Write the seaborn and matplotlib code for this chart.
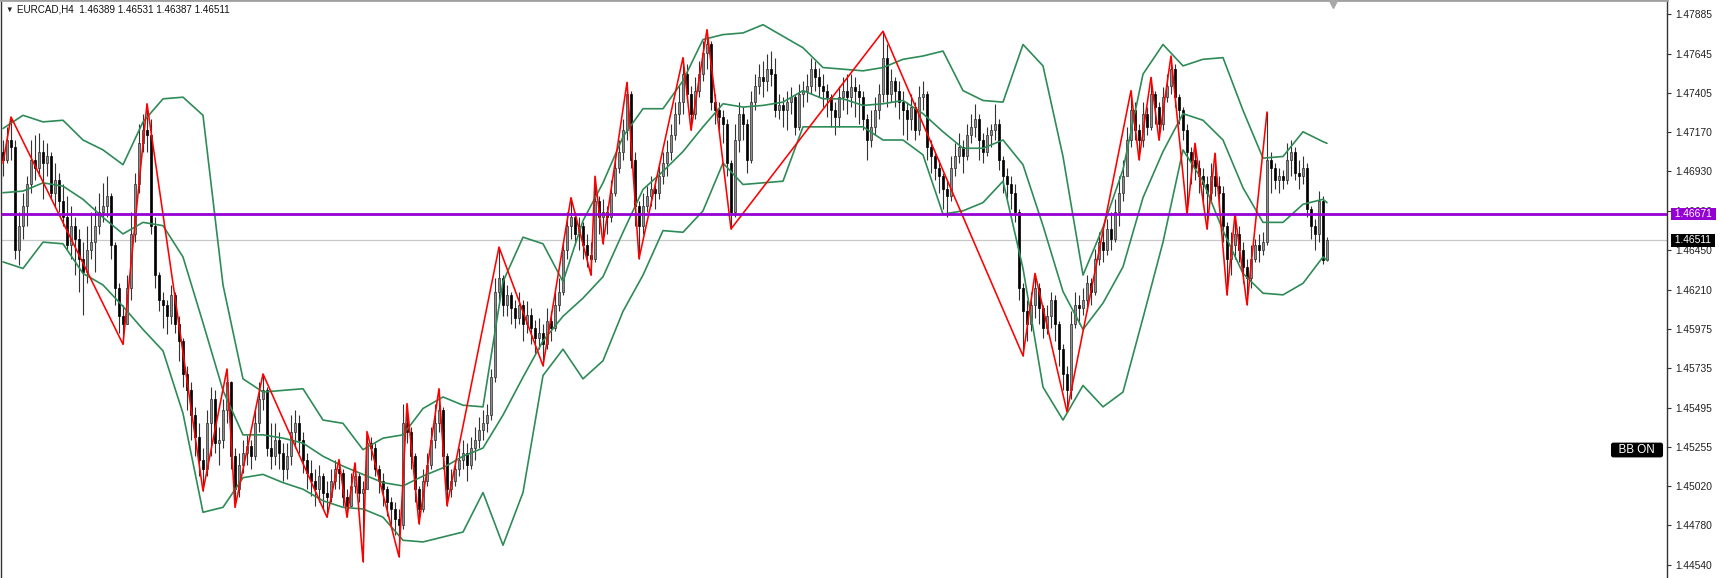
import numpy as np
import matplotlib
matplotlib.use("Agg")
import matplotlib.pyplot as plt
import matplotlib.transforms as mtransforms
import seaborn as sns

# all prices below are in points above 1.4000 (1 point = 0.0001)
BASE = 1.4
FIRST_OPEN = 705

CLOSE = [700, 712, 708, 645, 660, 672, 685, 700, 695, 705, 698, 702, 680, 688, 675, 665, 648, 660, 652, 640,
         632, 645, 650, 660, 668, 672, 678, 648, 622, 605, 600, 622, 655, 685, 710, 718, 715, 660, 630, 615,
         612, 605, 618, 600, 590, 570, 560, 545, 532, 518, 512, 540, 555, 528, 530, 548, 565, 520, 500, 515,
         522, 526, 520, 540, 555, 560, 525, 520, 530, 522, 512, 520, 535, 540, 530, 518, 510, 505, 500, 508,
         498, 495, 505, 512, 510, 495, 490, 502, 508, 498, 500, 528, 525, 512, 505, 500, 492, 488, 482, 478,
         540, 535, 520, 500, 488, 505, 515, 530, 540, 548, 520, 500, 505, 512, 518, 522, 515, 525, 530, 536,
         540, 545, 568, 620, 628, 612, 618, 610, 604, 612, 600, 606, 598, 592, 595, 588, 602, 598, 612, 620,
         645, 660, 665, 655, 660, 648, 642, 640, 675, 665, 668, 665, 680, 695, 705, 718, 740, 700, 672, 660,
         672, 678, 682, 680, 690, 698, 705, 715, 728, 735, 752, 740, 728, 742, 752, 765, 770, 735, 730, 726,
         722, 698, 668, 712, 728, 722, 700, 735, 745, 750, 748, 755, 752, 730, 733, 730, 735, 738, 720, 740,
         742, 745, 755, 750, 745, 742, 738, 730, 726, 738, 742, 738, 744, 742, 738, 725, 712, 720, 730, 740,
         762, 740, 748, 742, 735, 730, 725, 732, 718, 738, 740, 708, 702, 695, 690, 682, 678, 695, 702, 708,
         702, 715, 720, 725, 712, 705, 715, 718, 722, 700, 690, 685, 680, 668, 622, 608, 600, 612, 622, 610,
         598, 605, 615, 600, 585, 570, 560, 600, 612, 610, 615, 625, 620, 640, 650, 645, 658, 652, 668, 680,
         690, 712, 730, 718, 712, 728, 720, 740, 732, 722, 738, 745, 755, 738, 730, 718, 705, 700, 695, 690,
         685, 680, 690, 684, 680, 660, 640, 648, 655, 645, 635, 628, 640, 648, 645, 650, 700, 695, 688, 690,
         688, 700, 705, 692, 690, 695, 670, 660, 655, 675, 638.9, 651.1]
HIGH = [712, 720, 726, 712, 668, 680, 690, 712, 715, 716, 712, 710, 705, 698, 692, 685, 678, 672, 665, 658,
        650, 660, 668, 672, 680, 686, 690, 680, 650, 625, 612, 630, 668, 692, 722, 728, 734, 725, 665, 632,
        620, 615, 624, 620, 605, 592, 575, 565, 550, 540, 525, 548, 562, 560, 538, 555, 573, 566, 525, 522,
        530, 533, 530, 548, 565, 570, 562, 540, 540, 535, 528, 528, 545, 548, 545, 535, 522, 518, 512, 515,
        510, 505, 512, 518, 518, 512, 500, 510, 516, 510, 505, 535, 532, 528, 515, 510, 502, 495, 492, 488,
        552, 552, 538, 522, 502, 512, 522, 538, 552, 561, 550, 522, 512, 518, 525, 530, 528, 532, 538, 544,
        548, 552, 573, 628, 647, 630, 624, 620, 615, 620, 615, 614, 610, 603, 604, 600, 610, 608, 620, 628,
        650, 668, 677, 668, 665, 662, 655, 650, 690, 678, 676, 672, 688, 702, 712, 725, 747, 742, 705, 675,
        680, 684, 690, 688, 698, 705, 712, 722, 735, 745, 762, 758, 745, 750, 760, 772, 779, 772, 740, 735,
        730, 725, 700, 722, 735, 732, 725, 742, 752, 758, 760, 764, 766, 762, 740, 738, 742, 744, 740, 746,
        748, 752, 762, 760, 756, 752, 746, 740, 735, 745, 750, 752, 752, 750, 746, 742, 728, 730, 738, 746,
        778, 770, 755, 750, 748, 742, 735, 740, 735, 745, 748, 742, 712, 705, 700, 692, 688, 702, 710, 716,
        712, 722, 728, 734, 728, 716, 720, 722, 734, 725, 702, 695, 690, 685, 670, 625, 615, 620, 631, 625,
        612, 612, 620, 618, 602, 588, 575, 608, 620, 618, 622, 630, 628, 646, 656, 658, 664, 668, 676, 690,
        700, 720, 742, 735, 722, 735, 732, 750, 742, 735, 744, 752, 763, 758, 740, 732, 722, 708, 710, 700,
        695, 690, 698, 704, 690, 684, 662, 656, 667, 660, 650, 640, 648, 652, 655, 656, 729, 705, 698, 695,
        694, 710, 712, 708, 700, 702, 698, 672, 664, 681, 678, 653.1]
LOW = [690, 698, 700, 640, 636, 652, 660, 680, 688, 690, 676, 690, 676, 672, 668, 660, 645, 640, 630, 620,
       606, 625, 640, 632, 655, 662, 665, 640, 612, 595, 588, 600, 615, 650, 680, 705, 705, 655, 622, 608,
       598, 594, 600, 595, 578, 562, 548, 530, 520, 508, 499, 508, 520, 522, 515, 525, 540, 512, 489, 495,
       510, 515, 512, 518, 535, 548, 520, 512, 515, 512, 505, 506, 515, 525, 522, 510, 500, 496, 490, 492,
       488, 483, 492, 500, 500, 490, 483, 490, 498, 492, 456, 500, 518, 508, 498, 490, 484, 478, 472, 459,
       476, 528, 512, 492, 479, 486, 502, 512, 525, 535, 512, 490, 495, 502, 508, 512, 505, 512, 518, 525,
       530, 535, 542, 565, 615, 605, 605, 600, 598, 600, 590, 595, 588, 582, 585, 575, 585, 590, 596, 608,
       618, 640, 652, 648, 645, 640, 635, 630, 638, 655, 649, 655, 662, 678, 692, 700, 712, 695, 660, 640,
       655, 668, 672, 670, 676, 685, 690, 700, 712, 722, 728, 735, 718, 725, 738, 748, 755, 730, 722, 718,
       710, 690, 658, 665, 705, 712, 692, 698, 730, 740, 738, 742, 745, 726, 725, 720, 718, 728, 715, 718,
       732, 735, 740, 742, 738, 732, 726, 720, 715, 720, 730, 728, 732, 726, 722, 718, 700, 708, 715, 725,
       735, 732, 735, 732, 725, 715, 712, 718, 712, 715, 730, 700, 692, 688, 680, 670, 665, 675, 690, 698,
       692, 700, 710, 714, 700, 698, 702, 708, 712, 694, 680, 676, 670, 662, 615, 581, 590, 596, 604, 600,
       592, 594, 598, 590, 575, 560, 547, 555, 598, 600, 606, 608, 612, 618, 636, 638, 642, 645, 650, 660,
       675, 695, 708, 712, 700, 708, 715, 718, 722, 712, 718, 735, 740, 732, 722, 712, 667, 685, 688, 680,
       672, 658, 675, 678, 672, 650, 618, 630, 640, 638, 625, 612, 622, 638, 638, 642, 648, 680, 682, 680,
       682, 685, 690, 688, 682, 685, 665, 652, 645, 650, 637, 638.7]

# Bollinger band readings, one every 5 bars plus the last bar
BAND_BARS = list(range(0, 331, 5)) + [331]
BB_UPPER = [719, 727, 723, 724, 712, 706, 697, 723, 737, 738, 727, 624, 567, 559, 560, 561, 542, 540, 524, 531,
            533, 549, 556, 551, 550, 626, 653, 649, 626, 663, 686, 714, 731, 731, 748, 773, 776, 777, 782, 775,
            768, 756, 755, 754, 756, 761, 763, 766, 742, 736, 735, 770, 757, 702, 630, 659, 694, 752, 770, 757,
            761, 762, 730, 701, 702, 717, 711, 710]
BB_MID = [680, 681, 686, 684, 676, 665, 655, 662, 660, 641, 601, 560, 533, 533, 531, 528, 520, 514, 509, 504,
          502, 508, 513, 520, 525, 545, 568, 590, 605, 616, 629, 656, 682, 693, 705, 720, 734, 732, 733, 735,
          742, 737, 737, 733, 734, 736, 728, 717, 707, 707, 712, 697, 660, 620, 597, 613, 635, 677, 705, 728,
          724, 712, 683, 662, 662, 673, 676, 674]
BB_LOWER = [638, 634, 650, 649, 631, 624, 611, 597, 584, 546, 486, 489, 507, 509, 504, 500, 493, 489, 488, 483,
            469, 468, 471, 474, 498, 466, 498, 569, 585, 567, 578, 608, 630, 657, 656, 669, 698, 685, 686, 687,
            720, 720, 720, 720, 712, 712, 703, 667, 669, 674, 687, 634, 562, 542, 563, 550, 559, 604, 650, 706,
            687, 657, 631, 619, 618, 625, 641, 639]

# zigzag pivots: bar number and price
ZZ_BARS = [0, 2, 30, 36, 50, 56, 58, 65, 81, 84, 86, 88, 90, 91, 99, 101, 104, 109, 111, 124, 135, 142, 147, 148,
           150, 156, 159, 170, 172, 176, 182, 220, 255, 258, 266, 282, 284, 287, 289, 292, 296, 298, 301, 303,
           306, 308, 311, 316]
ZZ_PTS = [698, 726, 588, 734, 499, 573, 489, 570, 483, 518, 483, 516, 456, 535, 459, 552, 479, 561, 490, 647,
          575, 677, 630, 690, 649, 747, 640, 762, 718, 779, 658, 778, 581, 631, 547, 742, 700, 750, 712, 763,
          667, 710, 658, 704, 618, 667, 612, 729]

TICK_PRICES = [1.47885, 1.47645, 1.47405, 1.47170, 1.46930, 1.46690, 1.46450, 1.46210, 1.45975, 1.45735,
               1.45495, 1.45255, 1.45020, 1.44780, 1.44540]
TICK_LABELS = ["%.5f" % p for p in TICK_PRICES]
LEVEL_PRICE = 1.46671
BID_PRICE = 1.46511
TITLE = "EURCAD,H4  1.46389 1.46531 1.46387 1.46511"

GREEN = "#2e8b57"

sns.set_style("white")
plt.rcParams["font.family"] = ["Liberation Sans", "DejaVu Sans"]

fig = plt.figure(figsize=(17.2, 5.78), dpi=100)
ax = fig.add_axes([1 / 1720, 0, 1666 / 1720, 1])

to_price = lambda v: BASE + np.asarray(v, dtype=float) / 1e4
close = to_price(CLOSE)
high = to_price(HIGH)
low = to_price(LOW)
opens = np.concatenate([[to_price(FIRST_OPEN)], close[:-1]])
bars = np.arange(len(close))
up = close >= opens
body_lo = np.minimum(opens, close)
body_h = np.maximum(np.abs(close - opens), 0.00002)

# candles
ax.vlines(bars, low, high, color="#333333", linewidth=0.8, zorder=3)
ax.bar(bars[up], body_h[up], bottom=body_lo[up], width=0.72, color="#8e8e8e",
       edgecolor="#2b2b2b", linewidth=0.5, zorder=4)
ax.bar(bars[~up], body_h[~up], bottom=body_lo[~up], width=0.72, color="black",
       edgecolor="black", linewidth=0.5, zorder=4)

# bands
for band in (BB_UPPER, BB_MID, BB_LOWER):
    sns.lineplot(x=BAND_BARS, y=to_price(band), ax=ax, color=GREEN, linewidth=1.2, zorder=5)

# zigzag
sns.lineplot(x=ZZ_BARS, y=to_price(ZZ_PTS), ax=ax, sort=False, color="#ff0000", linewidth=1.15, zorder=6)

# horizontal lines
ax.axhline(BID_PRICE, color="#c8c8c8", linewidth=0.9, zorder=2)
ax.axhline(LEVEL_PRICE, color="#9400d3", linewidth=2.0, zorder=7)

ax.set_xlim(-0.5, 416)
ax.set_ylim(1.44461, 1.47970)
ax.set_xticks([])
ax.yaxis.tick_right()
ax.set_yticks(TICK_PRICES)
ax.set_yticklabels(TICK_LABELS)
ax.tick_params(axis="y", which="both", right=True, left=False, length=3, width=0.8,
               color="#333333", labelsize=7.4, labelcolor="#222222", pad=3)
ax.set_xlabel("")
ax.set_ylabel("")

for side in ("left", "right"):
    ax.spines[side].set_color("#333333")
    ax.spines[side].set_linewidth(1.0)
ax.spines["top"].set_color("#a0a0a0")
ax.spines["top"].set_linewidth(2.0)
ax.spines["bottom"].set_visible(False)

# price tags on the axis
trans = mtransforms.blended_transform_factory(ax.transAxes, ax.transData)
shift = mtransforms.ScaledTranslation(5 / 100, 0, fig.dpi_scale_trans)
ax.text(1.0, LEVEL_PRICE, " %.5f " % LEVEL_PRICE, transform=trans + shift, ha="left", va="center",
        color="white", fontsize=7.4, clip_on=False, zorder=10,
        bbox=dict(boxstyle="square,pad=0.12", fc="#9400d3", ec="none"))
ax.text(1.0, BID_PRICE, " %.5f " % BID_PRICE, transform=trans + shift, ha="left", va="center",
        color="white", fontsize=7.4, clip_on=False, zorder=10,
        bbox=dict(boxstyle="square,pad=0.12", fc="black", ec="none"))

ax.text(0.982, 1.45238, "  BB ON  ", transform=trans, ha="center", va="center", color="white",
        fontsize=8.4, zorder=10, bbox=dict(boxstyle="round,pad=0.12,rounding_size=0.2", fc="black", ec="none"))

# chart shift marker
ax.plot([len(close) + 0.5], [0.993], transform=mtransforms.blended_transform_factory(ax.transData, ax.transAxes),
        marker="v", markersize=6, color="#a8a8a8", linestyle="none", clip_on=False, zorder=10)

fig.text(5 / 1720, 1 - 10 / 578, "\u25bc", fontsize=5.5, va="center", ha="left", color="#222222")
fig.text(17 / 1720, 1 - 9.5 / 578, TITLE, fontsize=7.1, va="center", ha="left", color="#111111")

fig.savefig("out.png", dpi=100, facecolor="white")
